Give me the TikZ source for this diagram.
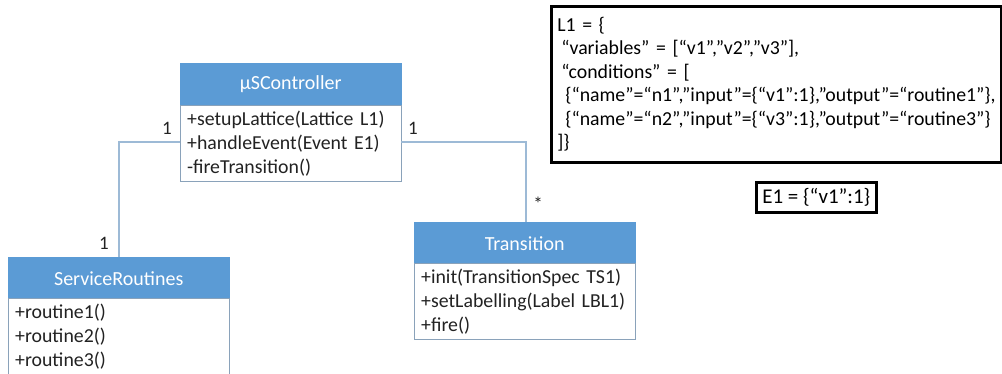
\documentclass[tikz,border=0pt]{standalone}
\usepackage{fontspec}
\setmainfont{Carlito}
\definecolor{hdrblue}{HTML}{5B9BD5}
\definecolor{bodyline}{HTML}{8AA2BA}
\definecolor{conn}{HTML}{9DBAD6}
\definecolor{txt}{HTML}{222222}
\begin{document}
\begin{tikzpicture}[x=1pt,y=-1pt,
  hdr/.style={draw=hdrblue, fill=hdrblue, text=white, minimum width=221pt, minimum height=42pt, anchor=north west, inner sep=0pt, font=\fontsize{20}{22}\selectfont},
  clsbody/.style={draw=bodyline, fill=white, minimum width=221pt, minimum height=76pt, anchor=north west, align=left, inner xsep=7pt, inner ysep=2pt, text width=207pt, text=txt, font=\fontsize{19.8}{24}\selectfont},
  mult/.style={text=txt, inner sep=0pt, font=\fontsize{19}{20}\selectfont},
  conline/.style={draw=conn, line width=1.2pt},
  codebox/.style={draw=black, line width=2.6pt, anchor=north west, align=left, text=black, inner xsep=6pt, inner ysep=3pt, font=\fontsize{19.8}{23.5}\selectfont}
]
\useasboundingbox (0,0) rectangle (1002,373);
% classes
\node[hdr] (cH) at (180,63) {μSController};
\node[clsbody] (cB) at (180,105) {+setupLattice(Lattice L1)\\+handleEvent(Event E1)\\-fireTransition()};
\node[hdr] (sH) at (8,257) {ServiceRoutines};
\node[clsbody, draw=none] (sB) at (8,298) {+routine1()\\+routine2()\\+routine3()};
\coordinate (sBot) at (0,380);
\draw[bodyline] (sB.north west) -- (sB.west |- sBot) (sB.north east) -- (sB.east |- sBot) (sB.north west) -- (sB.north east);
\node[hdr] (tH) at (414,222) {Transition};
\node[clsbody] (tB) at (414,263) {+init(TransitionSpec TS1)\\+setLabelling(Label LBL1)\\+fire()};
% connectors
\coordinate (lc) at (119,142);
\coordinate (rc) at (526,142);
\draw[conline] (cB.west |- lc) -- (lc) -- (lc |- sH.north);
\draw[conline] (cB.east |- rc) -- (rc) -- (rc |- tH.north);
% multiplicities
\node[mult] (m1) at (167,128) {1};
\node[mult] (m2) at (104,243) {1};
\node[mult] (m3) at (413,128) {1};
\node[mult] (m4) at (538,204) {*};
% code boxes
\node[codebox, text width=438pt, minimum height=156pt] (L1) at (550,5) {L1 = \{\\
\hspace{4pt}“variables” = [“v1”,”v2”,”v3”],\\
\hspace{4pt}“conditions” = [\\
\hspace{8pt}\{“name”=“n1”,”input”=\{“v1”:1\},”output”=“routine1”\},\\
\hspace{8pt}\{“name”=“n2”,”input”=\{“v3”:1\},”output”=“routine3”\}\\
]\}};
\node[codebox, minimum width=120pt, minimum height=30pt, align=center, inner ysep=0pt, font=\fontsize{21}{23}\selectfont] (E1) at (755,181) {E1 = \{“v1”:1\}};
\end{tikzpicture}
\end{document}
